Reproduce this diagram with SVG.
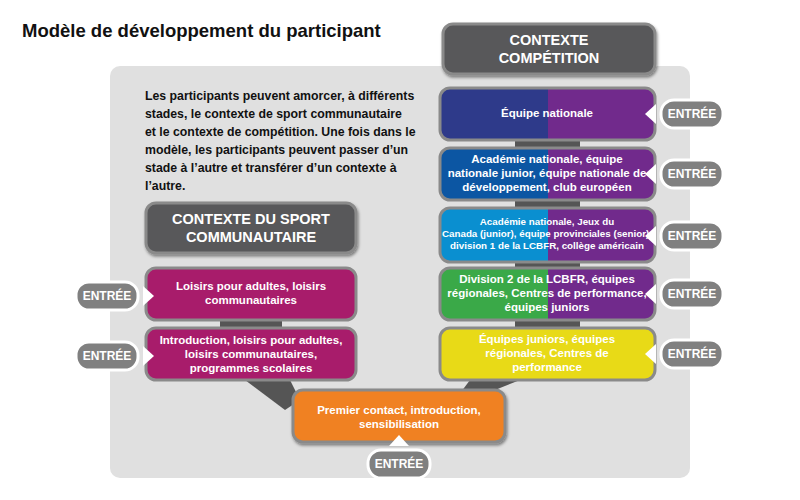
<svg xmlns="http://www.w3.org/2000/svg" width="800" height="500" viewBox="0 0 800 500">
<defs>
<style>
text{font-family:"Liberation Sans",Arial,sans-serif;font-weight:bold}
.bx{stroke:#8a8a8a;stroke-width:3}
.w{fill:#fff;font-size:11.5px;text-anchor:middle}
.s{fill:#fff;font-size:9.8px;text-anchor:middle}
.hd{fill:#fff;font-size:14.5px;text-anchor:middle}
.pill{fill:#808080;stroke:#fff;stroke-width:3}
.pt{fill:#fff;font-size:12px;text-anchor:middle}
.cn{fill:#555}
</style>
<filter id="sh" x="-10%" y="-10%" width="130%" height="140%"><feDropShadow dx="1" dy="2" stdDeviation="1.5" flood-opacity="0.45"/></filter>
<clipPath id="c1"><rect x="440" y="88" width="215" height="52" rx="10"/></clipPath>
<clipPath id="c2"><rect x="440" y="148" width="215" height="52" rx="10"/></clipPath>
<clipPath id="c3"><rect x="440" y="208" width="215" height="54" rx="10"/></clipPath>
<clipPath id="c4"><rect x="440" y="268" width="215" height="52" rx="10"/></clipPath>
</defs>
<rect width="800" height="500" fill="#fff"/>
<text x="22" y="37" font-size="18.5" fill="#111">Modèle de développement du participant</text>
<rect x="110" y="66" width="580" height="412" rx="10" fill="#e0e0e0"/>
<g fill="#111" font-size="12.3">
<text x="145" y="100">Les participants peuvent amorcer, à différents</text>
<text x="145" y="118">stades, le contexte de sport communautaire</text>
<text x="145" y="136">et le contexte de compétition. Une fois dans le</text>
<text x="145" y="154">modèle, les participants peuvent passer d’un</text>
<text x="145" y="172">stade à l’autre et transférer d’un contexte à</text>
<text x="145" y="190">l’autre.</text>
</g>
<g id="connectors" class="cn">
<rect x="515" y="140" width="65" height="8"/>
<rect x="515" y="200" width="65" height="8"/>
<rect x="515" y="262" width="65" height="6"/>
<rect x="515" y="320" width="65" height="8"/>
<rect x="220" y="320" width="62" height="8"/>
<polygon points="245,380 290,380 300,400 285,410"/>
<polygon points="470,380 520,380 470,400 455,400"/>
</g>
<g id="hdr-comp"><rect x="443" y="24" width="212" height="50" rx="10" fill="#58585a" class="bx" filter="url(#sh)"/>
<text class="hd" x="549" y="45">CONTEXTE</text><text class="hd" x="549" y="63">COMPÉTITION</text></g>
<g id="hdr-comm"><rect x="146" y="203" width="210" height="50" rx="10" fill="#58585a" class="bx" filter="url(#sh)"/>
<text class="hd" x="251" y="224">CONTEXTE DU SPORT</text><text class="hd" x="251" y="242">COMMUNAUTAIRE</text></g>
<g id="n1"><g clip-path="url(#c1)"><rect x="440" y="88" width="108" height="52" fill="#2e3a8a"/><rect x="548" y="88" width="107" height="52" fill="#712a8c"/></g>
<rect x="440" y="88" width="215" height="52" rx="10" fill="none" class="bx"/>
<text class="w" x="547" y="117">Équipe nationale</text></g>
<g id="n2"><g clip-path="url(#c2)"><rect x="440" y="148" width="108" height="52" fill="#0c56a3"/><rect x="548" y="148" width="107" height="52" fill="#712a8c"/></g>
<rect x="440" y="148" width="215" height="52" rx="10" fill="none" class="bx"/>
<text class="w" x="547" y="163">Académie nationale, équipe</text><text class="w" x="547" y="177">nationale junior, équipe nationale de</text><text class="w" x="547" y="191">développement, club européen</text></g>
<g id="n3"><g clip-path="url(#c3)"><rect x="440" y="208" width="108" height="54" fill="#0a8fd0"/><rect x="548" y="208" width="107" height="54" fill="#712a8c"/></g>
<rect x="440" y="208" width="215" height="54" rx="10" fill="none" class="bx"/>
<text class="s" x="547" y="225">Académie nationale, Jeux du</text><text class="s" x="547" y="237">Canada (junior), équipe provinciales (senior),</text><text class="s" x="547" y="249">division 1 de la LCBFR, collège américain</text></g>
<g id="n4"><g clip-path="url(#c4)"><rect x="440" y="268" width="108" height="52" fill="#3aa948"/><rect x="548" y="268" width="107" height="52" fill="#712a8c"/></g>
<rect x="440" y="268" width="215" height="52" rx="10" fill="none" class="bx"/>
<text class="w" x="547" y="283">Division 2 de la LCBFR, équipes</text><text class="w" x="547" y="297">régionales, Centres de performance,</text><text class="w" x="547" y="311">équipes juniors</text></g>
<g id="n5"><rect x="440" y="328" width="215" height="52" rx="10" fill="#e8da17" class="bx"/>
<text class="w" x="547" y="343">Équipes juniors, équipes</text><text class="w" x="547" y="357">régionales, Centres de</text><text class="w" x="547" y="371">performance</text></g>
<g id="l1"><rect x="146" y="268" width="210" height="52" rx="10" fill="#a81c6b" class="bx"/>
<text class="w" x="251" y="290">Loisirs pour adultes, loisirs</text><text class="w" x="251" y="304">communautaires</text></g>
<g id="l2"><rect x="146" y="328" width="210" height="52" rx="10" fill="#a81c6b" class="bx"/>
<text class="w" x="251" y="344">Introduction, loisirs pour adultes,</text><text class="w" x="251" y="358">loisirs communautaires,</text><text class="w" x="251" y="372">programmes scolaires</text></g>
<g id="base"><rect x="293" y="390" width="212" height="52" rx="10" fill="#f08121" class="bx" filter="url(#sh)"/>
<text class="w" x="399" y="414">Premier contact, introduction,</text><text class="w" x="399" y="428">sensibilisation</text></g>
<g id="entries">
<g id="e1"><rect class="pill" x="661" y="100" width="62" height="28" rx="13"/><polygon points="645,114 656,104 656,124" fill="#fff"/><text class="pt" x="692" y="118">ENTRÉE</text></g>
<g id="e2"><rect class="pill" x="661" y="160" width="62" height="28" rx="13"/><polygon points="645,174 656,164 656,184" fill="#fff"/><text class="pt" x="692" y="178">ENTRÉE</text></g>
<g id="e3"><rect class="pill" x="661" y="222" width="62" height="28" rx="13"/><polygon points="645,236 656,226 656,246" fill="#fff"/><text class="pt" x="692" y="240">ENTRÉE</text></g>
<g id="e4"><rect class="pill" x="661" y="280" width="62" height="28" rx="13"/><polygon points="645,294 656,284 656,304" fill="#fff"/><text class="pt" x="692" y="298">ENTRÉE</text></g>
<g id="e5"><rect class="pill" x="661" y="340" width="62" height="28" rx="13"/><polygon points="645,354 656,344 656,364" fill="#fff"/><text class="pt" x="692" y="358">ENTRÉE</text></g>
<g id="e6"><rect class="pill" x="76" y="282" width="62" height="28" rx="13"/><polygon points="154,296 143,286 143,306" fill="#fff"/><text class="pt" x="107" y="300">ENTRÉE</text></g>
<g id="e7"><rect class="pill" x="76" y="342" width="62" height="28" rx="13"/><polygon points="154,356 143,346 143,366" fill="#fff"/><text class="pt" x="107" y="360">ENTRÉE</text></g>
<g id="e8"><rect class="pill" x="368" y="450" width="62" height="28" rx="13"/><polygon points="399,435 389,446 409,446" fill="#fff"/><text class="pt" x="399" y="468">ENTRÉE</text></g>
</g>
</svg>
